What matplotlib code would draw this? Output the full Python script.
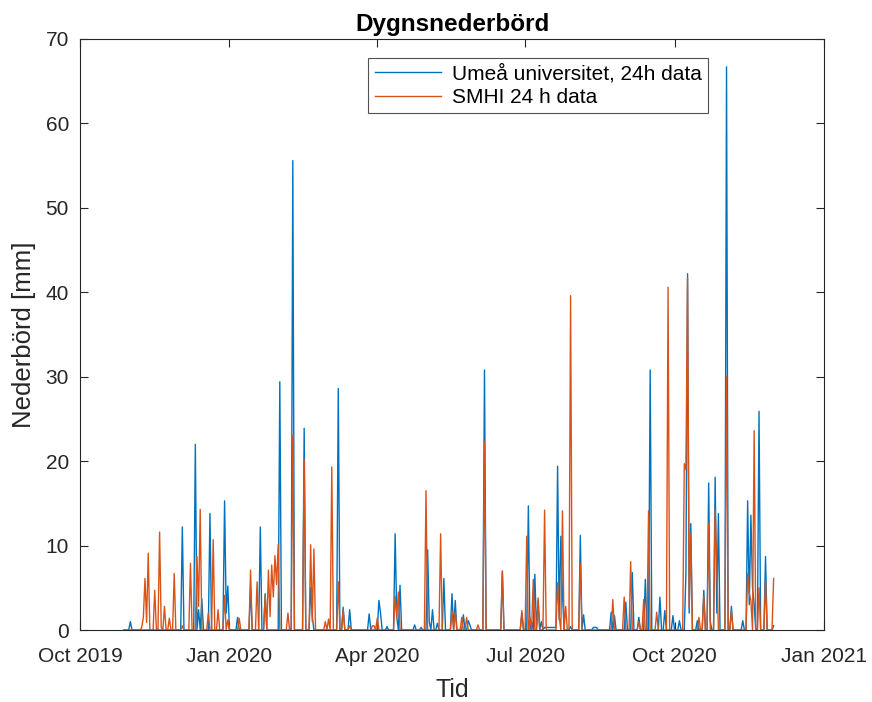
import matplotlib
matplotlib.use('Agg')
import matplotlib.pyplot as plt
import matplotlib.dates as mdates
import pandas as pd

plt.rcParams['font.family'] = ['Liberation Sans', 'DejaVu Sans']

# Daily precipitation (mm), days not listed are 0
umea_dates = [
    '2019-11-01', '2019-12-03', '2019-12-11', '2019-12-13', '2019-12-15', '2019-12-20',
    '2019-12-29', '2019-12-30', '2019-12-31', '2020-01-06', '2020-01-14', '2020-01-20',
    '2020-01-23', '2020-02-01', '2020-02-09', '2020-02-16', '2020-02-20', '2020-02-21',
    '2020-03-08', '2020-03-11', '2020-03-15', '2020-03-27', '2020-04-02', '2020-04-03',
    '2020-04-07', '2020-04-12', '2020-04-13', '2020-04-15', '2020-04-24', '2020-04-28',
    '2020-05-02', '2020-05-03', '2020-05-05', '2020-05-08', '2020-05-12', '2020-05-17',
    '2020-05-19', '2020-05-24', '2020-05-27', '2020-05-28', '2020-06-06', '2020-06-17',
    '2020-06-29', '2020-07-03', '2020-07-05', '2020-07-07', '2020-07-09', '2020-07-11',
    '2020-07-13', '2020-07-14', '2020-07-15', '2020-07-16', '2020-07-17', '2020-07-18',
    '2020-07-19', '2020-07-20', '2020-07-21', '2020-07-22', '2020-07-23', '2020-07-24',
    '2020-07-29', '2020-08-04', '2020-08-06', '2020-08-12', '2020-08-13', '2020-08-14',
    '2020-08-23', '2020-08-25', '2020-09-01', '2020-09-05', '2020-09-09', '2020-09-13',
    '2020-09-16', '2020-09-22', '2020-09-25', '2020-09-30', '2020-10-04', '2020-10-08',
    '2020-10-09', '2020-10-10', '2020-10-11', '2020-10-15', '2020-10-19', '2020-10-22',
    '2020-10-23', '2020-10-26', '2020-10-27', '2020-10-28', '2020-11-02', '2020-11-05',
    '2020-11-12', '2020-11-15', '2020-11-16', '2020-11-17', '2020-11-18', '2020-11-19',
    '2020-11-22', '2020-11-26', '2020-12-01',
]
umea_mm = [
    1.0, 12.2, 22.0, 2.4, 3.7, 13.8,
    15.3, 2.0, 5.2, 1.5, 5.0, 12.2,
    4.3, 29.4, 55.6, 23.9, 5.0, 1.6,
    28.6, 2.7, 2.4, 1.9, 3.5, 2.0,
    0.4, 11.4, 1.5, 5.3, 0.6, 0.3,
    9.5, 1.0, 2.4, 0.8, 6.1, 4.3,
    3.5, 1.8, 1.1, 0.6, 30.8, 7.0,
    2.0, 14.7, 1.0, 6.6, 3.5, 1.0,
    0.3, 0.3, 0.3, 0.3, 0.3, 0.3,
    0.3, 0.3, 19.4, 1.2, 11.1, 4.3,
    0.4, 11.2, 1.8, 0.3, 0.3, 0.3,
    2.1, 1.7, 3.3, 6.8, 1.5, 6.0,
    30.8, 3.9, 2.3, 1.7, 1.1, 6.7,
    42.2, 2.0, 12.6, 1.1, 4.7, 17.4,
    1.0, 18.1, 2.0, 13.8, 66.7, 2.8,
    1.1, 15.3, 3.0, 13.6, 5.0, 3.0,
    25.9, 8.7, 0.5,
]

smhi_dates = [
    '2019-11-08', '2019-11-09', '2019-11-10', '2019-11-11', '2019-11-12', '2019-11-16',
    '2019-11-17', '2019-11-19', '2019-11-20', '2019-11-22', '2019-11-25', '2019-11-28',
    '2019-12-03', '2019-12-08', '2019-12-12', '2019-12-13', '2019-12-14', '2019-12-19',
    '2019-12-22', '2019-12-25', '2019-12-29', '2019-12-31', '2020-01-07', '2020-01-14',
    '2020-01-18', '2020-01-23', '2020-01-25', '2020-01-26', '2020-01-27', '2020-01-28',
    '2020-01-29', '2020-01-30', '2020-01-31', '2020-02-06', '2020-02-09', '2020-02-16',
    '2020-02-20', '2020-02-21', '2020-02-22', '2020-02-29', '2020-03-02', '2020-03-04',
    '2020-03-08', '2020-03-11', '2020-03-15', '2020-03-29', '2020-03-30', '2020-04-01',
    '2020-04-12', '2020-04-13', '2020-04-14', '2020-05-01', '2020-05-10', '2020-05-17',
    '2020-05-19', '2020-05-23', '2020-05-26', '2020-06-02', '2020-06-06', '2020-06-17',
    '2020-06-29', '2020-07-02', '2020-07-04', '2020-07-06', '2020-07-09', '2020-07-13',
    '2020-07-21', '2020-07-22', '2020-07-24', '2020-07-26', '2020-07-29', '2020-08-04',
    '2020-08-24', '2020-08-31', '2020-09-04', '2020-09-09', '2020-09-12', '2020-09-15',
    '2020-09-20', '2020-09-27', '2020-10-07', '2020-10-08', '2020-10-09', '2020-10-10',
    '2020-10-11', '2020-10-16', '2020-10-19', '2020-10-22', '2020-10-26', '2020-10-27',
    '2020-11-02', '2020-11-05', '2020-11-15', '2020-11-16', '2020-11-17', '2020-11-19',
    '2020-11-22', '2020-11-26', '2020-12-01',
]
smhi_mm = [
    0.3, 1.5, 6.1, 0.9, 9.1, 4.7,
    0.2, 11.6, 0.3, 2.8, 1.4, 6.7,
    0.5, 7.9, 8.7, 2.8, 14.3, 2.0,
    10.7, 2.4, 4.1, 1.2, 1.4, 7.1,
    5.7, 4.1, 7.1, 1.6, 7.7, 3.9,
    8.8, 5.4, 10.1, 2.0, 23.1, 20.2,
    10.1, 1.0, 9.6, 1.0, 1.3, 19.3,
    5.7, 2.4, 0.5, 0.5, 0.5, 1.4,
    4.0, 1.5, 4.5, 16.5, 11.4, 2.2,
    2.1, 1.5, 1.5, 0.6, 22.3, 6.9,
    2.3, 11.1, 1.5, 6.0, 3.8, 14.2,
    5.6, 1.6, 14.1, 2.8, 39.6, 7.9,
    3.6, 3.9, 8.1, 1.0, 3.6, 14.1,
    2.1, 40.6, 19.7, 19.0, 41.7, 2.7,
    11.4, 1.5, 4.0, 12.6, 14.3, 7.7,
    30.0, 2.3, 6.7, 4.3, 3.5, 23.6,
    5.0, 5.8, 6.1,
]

days = pd.date_range('2019-10-28', '2020-12-01', freq='D')


def daily(dates, values):
    s = pd.Series(values, index=pd.to_datetime(dates))
    return s.reindex(days, fill_value=0.0)


umea = daily(umea_dates, umea_mm)
smhi = daily(smhi_dates, smhi_mm)

fig = plt.figure(figsize=(8.72, 7.02), dpi=100)
ax = fig.add_axes([80 / 872, 1 - 630 / 702, 744 / 872, 591 / 702])

ax.plot(umea.index, umea.values, color='#0072BD', lw=1.0, label='Umeå universitet, 24h data')
ax.plot(smhi.index, smhi.values, color='#D95319', lw=1.0, label='SMHI 24 h data')

ax.set_xlim(pd.Timestamp('2019-10-01'), pd.Timestamp('2021-01-01'))
ax.set_ylim(0, 70)
ax.set_yticks(range(0, 71, 10))
ax.xaxis.set_major_locator(mdates.MonthLocator(bymonth=[1, 4, 7, 10]))
ax.xaxis.set_major_formatter(mdates.DateFormatter('%b %Y'))

ax.tick_params(direction='in', top=True, right=True, length=6, width=0.8,
               labelsize=15, colors='#262626')
ax.tick_params(axis='x', pad=12)
ax.tick_params(axis='y', pad=8)
for sp in ax.spines.values():
    sp.set_color('#262626')
    sp.set_linewidth(0.8)

ax.set_title('Dygnsnederbörd', fontsize=17.5, fontweight='bold', pad=6)
ax.set_xlabel('Tid', fontsize=18, color='#262626', labelpad=9)
ax.set_ylabel('Nederbörd [mm]', fontsize=18.5, color='#262626', labelpad=7)

leg = ax.legend(loc='upper right', bbox_to_anchor=(0.844, 0.968), fontsize=15,
                frameon=True, fancybox=False, handlelength=3.2, handletextpad=0.5,
                borderpad=0.3, labelspacing=0.2, borderaxespad=0)
leg.get_frame().set_edgecolor('#262626')
leg.get_frame().set_linewidth(0.8)

fig.savefig('out.png', dpi=100)
